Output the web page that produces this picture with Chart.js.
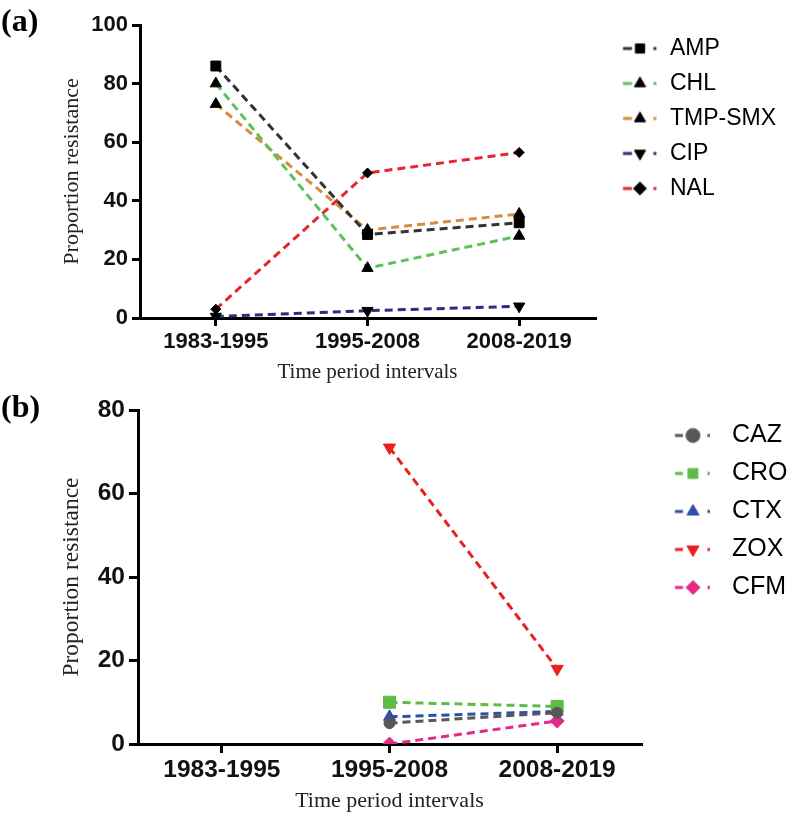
<!DOCTYPE html>
<html lang="en">
<head>
  <meta charset="UTF-8">
  <title>Proportion resistance by time period</title>
  <script src="https://cdn.jsdelivr.net/npm/chart.js"></script>
  <style>
    body { margin: 0; background: #fff; width: 800px; height: 835px; position: relative; overflow: hidden; }
    canvas { position: absolute; left: 0; }
    .tag { position: absolute; left: 1px; font-family: "Liberation Serif", "Times New Roman", serif; font-weight: bold; font-size: 32px; line-height: 1; }
  </style>
</head>
<body>
  <canvas id="chartA" width="800" height="400" style="top:0"></canvas>
  <canvas id="chartB" width="800" height="435" style="top:400px"></canvas>
  <div class="tag" style="top:4px">(a)</div>
  <div class="tag" style="top:390px">(b)</div>

  <script>
    // categories
    const periods = ['1983-1995', '1995-2008', '2008-2019'];

    // panel (a) values
    const ampValues = [86, 28.5, 32.5];
    const chlValues = [80, 17, 28];
    const tmpSmxValues = [73, 30, 35.5];
    const cipValues = [0.5, 2.5, 4];
    const nalValues = [3, 49.5, 56.5];
    const yTicksA = [0, 20, 40, 60, 80, 100];

    // panel (b) values (no data for the first period)
    const cazValues = [null, 5, 7.5];
    const croValues = [null, 10, 9];
    const ctxValues = [null, 6.5, 7.8];
    const zoxValues = [null, 71, 18];
    const cfmValues = [null, 0, 5.5];
    const yTicksB = [0, 20, 40, 60, 80];

    const SANS = '"Liberation Sans", Arial, sans-serif';
    const SERIF = '"Liberation Serif", "Times New Roman", serif';

    // small "- marker ." icon used in the legend
    function legendIcon(s, geo) {
      const c = document.createElement('canvas');
      c.width = geo.w;
      c.height = 22;
      const g = c.getContext('2d');
      const cy = 11;
      g.fillStyle = s.color;
      g.fillRect(geo.off, cy - 1.5, geo.dash, 3);
      g.fillRect(geo.off + geo.dotX - 1.5, cy - 1.5, 3, 3);
      g.fillStyle = s.marker;
      g.strokeStyle = s.marker;
      Chart.helpers.drawPoint(g, {
        pointStyle: s.style, rotation: s.rotation || 0, radius: geo.r, borderWidth: 1
      }, geo.off + geo.markX, cy);
      return c;
    }

    function textWidth(txt, size) {
      const g = document.createElement('canvas').getContext('2d');
      g.font = size + 'px ' + SANS;
      return g.measureText(txt).width;
    }

    function makePanel(id, p) {
      const canvas = document.getElementById(id);
      const W = canvas.width, H = canvas.height;

      // legend geometry: legend box starts where the plot ends
      const lf = p.legendFont, lp = p.legendPad;
      const boxWidth = p.textX - lf / 2 - (p.plotRight + lp);
      const centre = p.plotRight + lp + boxWidth / 2;
      const iconW = Math.ceil(2 * (p.iconRight - centre));
      const iconGeo = {
        w: iconW, off: p.iconLeft - (centre - iconW / 2),
        dash: p.iconDash, markX: p.iconMarkX, dotX: p.iconDotX, r: p.iconR
      };
      const maxText = Math.max(...p.series.map(s => textWidth(s.label, lf)));
      const legendWidth = lp + boxWidth + lf / 2 + maxText + 10;
      const padRight = Math.max(0, W - p.plotRight - legendWidth);

      const datasets = p.series.map(s => ({
        label: s.label,
        data: s.data,
        borderColor: s.color,
        backgroundColor: s.marker,
        borderWidth: 3,
        borderDash: [8, 5],
        pointStyle: s.style,
        pointRotation: s.rotation || 0,
        pointRadius: s.radius,
        pointBackgroundColor: s.marker,
        pointBorderColor: s.marker,
        pointBorderWidth: 1,
        spanGaps: false,
        fill: false,
        tension: 0
      }));

      const yTicks = p.yTicks;

      return new Chart(canvas, {
        type: 'line',
        data: { labels: periods, datasets: datasets },
        options: {
          responsive: false,
          animation: false,
          events: [],
          layout: { padding: { top: p.plotTop, bottom: 0, left: 0, right: padRight } },
          plugins: {
            tooltip: { enabled: false },
            legend: {
              position: 'right',
              align: 'start',
              labels: {
                usePointStyle: true,
                pointStyleWidth: boxWidth,
                padding: lp,
                color: '#000',
                font: { family: SANS, size: lf },
                generateLabels: chart => chart.data.datasets.map((ds, i) => ({
                  text: ds.label,
                  datasetIndex: i,
                  pointStyle: legendIcon(p.series[i], iconGeo),
                  fillStyle: 'transparent',
                  strokeStyle: 'transparent',
                  lineWidth: 0,
                  fontColor: '#000'
                }))
              }
            }
          },
          scales: {
            x: {
              offset: true,
              afterFit: sc => { sc.height = H - p.plotBottom; sc.paddingLeft = 0; sc.paddingRight = 0; },
              border: { display: true, color: '#000', width: 3 },
              grid: { display: true, offset: false, drawOnChartArea: false, drawTicks: true, tickLength: p.tickLen, color: '#000', lineWidth: 3 },
              ticks: { color: '#111', padding: p.xTickPad, maxRotation: 0, font: { family: SANS, size: p.tickFont, weight: 'bold' } },
              title: { display: true, text: 'Time period intervals', color: '#222', padding: { top: 0, bottom: p.xTitlePad }, font: { family: SERIF, size: p.xTitleFont } }
            },
            y: {
              min: yTicks[0],
              max: yTicks[yTicks.length - 1],
              afterFit: sc => { sc.width = p.plotLeft; sc.paddingTop = 0; sc.paddingBottom = 0; },
              border: { display: true, color: '#000', width: 3 },
              grid: { display: true, drawOnChartArea: false, drawTicks: true, tickLength: p.tickLen, color: '#000', lineWidth: 3 },
              ticks: { stepSize: yTicks[1] - yTicks[0], color: '#111', padding: 4, font: { family: SANS, size: p.tickFont, weight: 'bold' } },
              title: { display: true, text: 'Proportion resistance', color: '#222', padding: { top: p.yTitlePad, bottom: 0 }, font: { family: SERIF, size: p.yTitleFont } }
            }
          }
        }
      });
    }

    makePanel('chartA', {
      plotLeft: 140, plotRight: 595, plotTop: 25, plotBottom: 318,
      tickFont: 22, xTitleFont: 21, yTitleFont: 22, tickLen: 8, xTickPad: 3, xTitlePad: 15, yTitlePad: 59,
      legendFont: 23, legendPad: 12, textX: 670, iconLeft: 623, iconRight: 657,
      iconDash: 9, iconMarkX: 17, iconDotX: 32, iconR: 6.5,
      yTicks: yTicksA,
      series: [
        { label: 'AMP', data: ampValues, color: '#333333', marker: '#000', style: 'rect', radius: 7 },
        { label: 'CHL', data: chlValues, color: '#5cc25a', marker: '#000', style: 'triangle', radius: 6.5 },
        { label: 'TMP-SMX', data: tmpSmxValues, color: '#d98a3d', marker: '#000', style: 'triangle', radius: 6.5 },
        { label: 'CIP', data: cipValues, color: '#2d2d80', marker: '#000', style: 'triangle', rotation: 180, radius: 6.5 },
        { label: 'NAL', data: nalValues, color: '#e3262f', marker: '#000', style: 'rectRot', radius: 5 }
      ]
    });

    makePanel('chartB', {
      plotLeft: 138, plotRight: 641, plotTop: 10, plotBottom: 344,
      tickFont: 24.5, xTitleFont: 22, yTitleFont: 23.5, tickLen: 9, xTickPad: 3, xTitlePad: 21, yTitlePad: 58,
      legendFont: 25, legendPad: 13, textX: 732, iconLeft: 675, iconRight: 710,
      iconDash: 8, iconMarkX: 18, iconDotX: 34, iconR: 7,
      yTicks: yTicksB,
      series: [
        { label: 'CAZ', data: cazValues, color: '#585858', marker: '#585858', style: 'circle', radius: 5.5 },
        { label: 'CRO', data: croValues, color: '#5dbb46', marker: '#5dbb46', style: 'rect', radius: 8.5 },
        { label: 'CTX', data: ctxValues, color: '#2f4fa8', marker: '#2f4fa8', style: 'triangle', radius: 7 },
        { label: 'ZOX', data: zoxValues, color: '#e8201f', marker: '#e8201f', style: 'triangle', rotation: 180, radius: 7 },
        { label: 'CFM', data: cfmValues, color: '#e32a84', marker: '#e32a84', style: 'rectRot', radius: 7 }
      ]
    });
  </script>
</body>
</html>
